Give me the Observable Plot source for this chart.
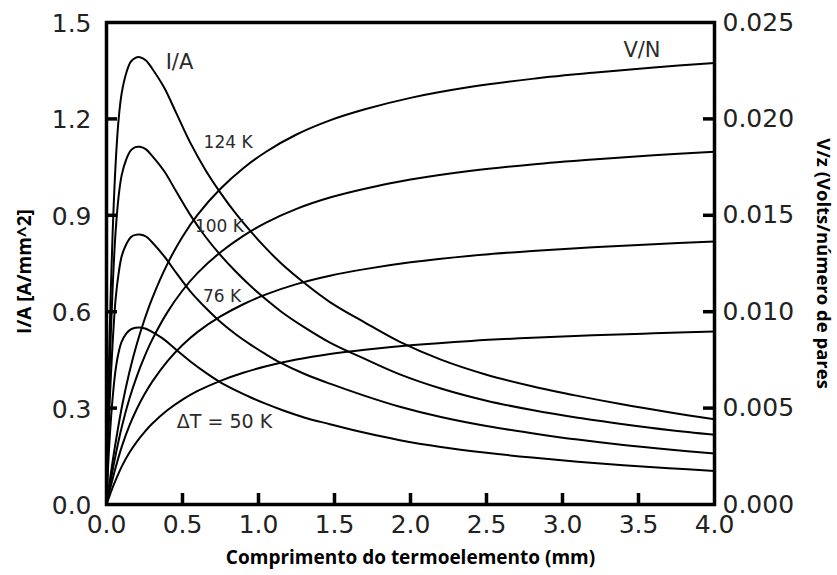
<!DOCTYPE html>
<html><head><meta charset="utf-8">
<script src="https://cdn.jsdelivr.net/npm/d3@7"></script>
<script src="https://cdn.jsdelivr.net/npm/@observablehq/plot@0.6"></script>
<style>body{margin:0;background:#fff} #chart svg{display:block}</style>
</head><body><div id="chart"></div>
<script>
// Comprimento do termoelemento (mm)
const lengthIA = [0, 0.01, 0.02, 0.04, 0.06, 0.08, 0.1, 0.13, 0.16, 0.19, 0.22, 0.26, 0.3, 0.38, 0.46, 0.55, 0.65, 0.75, 0.85, 0.95, 1.05, 1.15, 1.3, 1.47, 1.7, 1.93, 2.2, 2.5, 2.8, 3.1, 3.4, 3.7, 4.0];
// I/A [A/mm^2]
const ia124 = [0, 0.28, 0.52, 0.84, 1.06, 1.2, 1.28, 1.343, 1.378, 1.39, 1.392, 1.382, 1.357, 1.297, 1.217, 1.127, 1.042, 0.97, 0.906, 0.849, 0.797, 0.75, 0.69, 0.63, 0.566, 0.506, 0.451, 0.404, 0.368, 0.338, 0.311, 0.287, 0.265];
const ia100 = [0, 0.22, 0.41, 0.67, 0.85, 0.96, 1.025, 1.074, 1.102, 1.112, 1.113, 1.105, 1.085, 1.037, 0.973, 0.902, 0.834, 0.776, 0.725, 0.679, 0.638, 0.6, 0.552, 0.504, 0.453, 0.405, 0.361, 0.323, 0.294, 0.27, 0.25, 0.232, 0.217];
const ia76  = [0, 0.17, 0.31, 0.5, 0.64, 0.72, 0.773, 0.81, 0.832, 0.839, 0.84, 0.834, 0.816, 0.772, 0.72, 0.664, 0.613, 0.568, 0.53, 0.497, 0.467, 0.44, 0.407, 0.376, 0.338, 0.304, 0.272, 0.244, 0.222, 0.202, 0.185, 0.171, 0.159];
const ia50  = [0, 0.11, 0.2, 0.33, 0.42, 0.474, 0.507, 0.532, 0.545, 0.55, 0.551, 0.547, 0.537, 0.513, 0.481, 0.446, 0.411, 0.38, 0.355, 0.333, 0.313, 0.295, 0.271, 0.25, 0.223, 0.2, 0.179, 0.161, 0.146, 0.133, 0.122, 0.113, 0.104];

const lengthVN = [0, 0.02, 0.05, 0.1, 0.15, 0.2, 0.25, 0.3, 0.4, 0.5, 0.6, 0.75, 0.9, 1.05, 1.25, 1.47, 1.7, 2.0, 2.4, 2.8, 3.2, 3.6, 4.0];
// V/z (Volts / número de pares)
const vn124 = [0, 0.001145, 0.002725, 0.005015, 0.006847, 0.008336, 0.009595, 0.010683, 0.012469, 0.013889, 0.015034, 0.016374, 0.017438, 0.018297, 0.01919, 0.019923, 0.020496, 0.021091, 0.021663, 0.022076, 0.022396, 0.022671, 0.0229];
const vn100 = [0, 0.000915, 0.002178, 0.004008, 0.005472, 0.006661, 0.007668, 0.008537, 0.009964, 0.011099, 0.012014, 0.013085, 0.013935, 0.014622, 0.015335, 0.015921, 0.016379, 0.016854, 0.017312, 0.017641, 0.017897, 0.018117, 0.0183];
const vn76  = [0, 0.000682, 0.001623, 0.002987, 0.004078, 0.004965, 0.005715, 0.006363, 0.007427, 0.008273, 0.008955, 0.009753, 0.010387, 0.010898, 0.01143, 0.011867, 0.012208, 0.012562, 0.012904, 0.013149, 0.01334, 0.013504, 0.01364];
const vn50  = [0, 0.000449, 0.001067, 0.001964, 0.002682, 0.003265, 0.003758, 0.004185, 0.004884, 0.00544, 0.005889, 0.006414, 0.006831, 0.007167, 0.007517, 0.007804, 0.008028, 0.008261, 0.008486, 0.008647, 0.008773, 0.00888, 0.00897];

const seriesNames = ["124 K", "100 K", "76 K", "50 K"];
const xTicks = [0, 0.5, 1, 1.5, 2, 2.5, 3, 3.5, 4];
const yTicksLeft = [0, 0.3, 0.6, 0.9, 1.2, 1.5];
const yTicksRight = [0, 0.005, 0.01, 0.015, 0.02, 0.025];

const xTitle = "Comprimento do termoelemento (mm)";
const yTitleLeft = "I/A [A/mm^2]";
const yTitleRight = "V/z (Volts/número de pares";

const annotations = [
  {x: 0.48, y: 1.377, label: "I/A"},
  {x: 0.80, y: 1.127, label: "124 K"},
  {x: 0.743, y: 0.864, label: "100 K"},
  {x: 0.76, y: 0.646, label: "76 K"},
  {x: 0.776, y: 0.258, label: "ΔT = 50 K"},
  {x: 3.523, y: 1.413, label: "V/N"}
];
const annotationSize = {"I/A": 21, "V/N": 21, "ΔT = 50 K": 19};

// right axis maps onto left axis
const K = yTicksLeft[yTicksLeft.length - 1] / yTicksRight[yTicksRight.length - 1];

const iaSeries = [ia124, ia100, ia76, ia50];
const vnSeries = [vn124, vn100, vn76, vn50];
const iaData = iaSeries.flatMap((s, j) => lengthIA.map((x, i) => ({x, y: s[i], z: "I/A " + seriesNames[j]})));
const vnData = vnSeries.flatMap((s, j) => lengthVN.map((x, i) => ({x, y: s[i] * K, z: "V/N " + seriesNames[j]})));

const W = 837, H = 575, mL = 106, mR = 123, mT = 22, mB = 71;
const innerW = W - mL - mR, innerH = H - mT - mB;
const tickLen = 11;
const numFont = "DejaVu Sans";
const titleFont = "Open Sans";

const chart = Plot.plot({
  width: W, height: H,
  marginLeft: mL, marginRight: mR, marginTop: mT, marginBottom: mB,
  x: {domain: [xTicks[0], xTicks[xTicks.length - 1]], axis: null},
  y: {domain: [yTicksLeft[0], yTicksLeft[yTicksLeft.length - 1]], axis: null},
  style: {background: "#fff", overflow: "visible"},
  marks: [
    Plot.line(iaData, {x: "x", y: "y", z: "z", stroke: "#000", strokeWidth: 2, curve: "catmull-rom"}),
    Plot.line(vnData, {x: "x", y: "y", z: "z", stroke: "#000", strokeWidth: 2, curve: "catmull-rom"}),
    Plot.tickY(yTicksLeft.slice(1, -1), {y: d => d, insetRight: innerW - tickLen, stroke: "#000", strokeWidth: 3.5}),
    Plot.tickY(yTicksRight.slice(1, -1), {y: d => d * K, insetLeft: innerW - tickLen, stroke: "#000", strokeWidth: 3.5}),
    Plot.tickX(xTicks.slice(1, -1), {x: d => d, insetTop: innerH - tickLen, stroke: "#000", strokeWidth: 3.5}),
    Plot.frame({stroke: "#000", strokeWidth: 3.5}),
    Plot.text(yTicksLeft, {y: d => d, frameAnchor: "left", textAnchor: "end", dx: -15, dy: 1.5,
      text: d => d.toFixed(1), fontSize: 25, fontFamily: numFont, fill: "#222"}),
    Plot.text(yTicksRight, {y: d => d * K, frameAnchor: "right", textAnchor: "start", dx: 8,
      text: d => d.toFixed(3), fontSize: 25, fontFamily: numFont, fill: "#222"}),
    Plot.text(xTicks, {x: d => d, frameAnchor: "bottom", dy: 28,
      text: d => d.toFixed(1), fontSize: 25, fontFamily: numFont, fill: "#222"}),
    Plot.text(annotations, {x: "x", y: "y", text: "label",
      fontSize: d => annotationSize[d.label] || 17, fontFamily: numFont, fill: "#2b2b2b"}),
    Plot.text([xTitle], {frameAnchor: "bottom", textAnchor: "middle", dy: 59, text: d => d,
      fontSize: 19, fontWeight: 700, fontFamily: titleFont, fill: "#000"}),
    Plot.text([yTitleLeft], {frameAnchor: "left", textAnchor: "middle", rotate: -90, dx: -82, dy: 8, text: d => d,
      fontSize: 19, fontWeight: 700, fontFamily: titleFont, fill: "#000"}),
    Plot.text([yTitleRight], {frameAnchor: "right", textAnchor: "middle", rotate: 90, dx: 108, text: d => d,
      fontSize: 18.5, fontWeight: 700, fontFamily: titleFont, fill: "#000"})
  ]
});
document.getElementById("chart").appendChild(chart);
</script>
</body></html>
